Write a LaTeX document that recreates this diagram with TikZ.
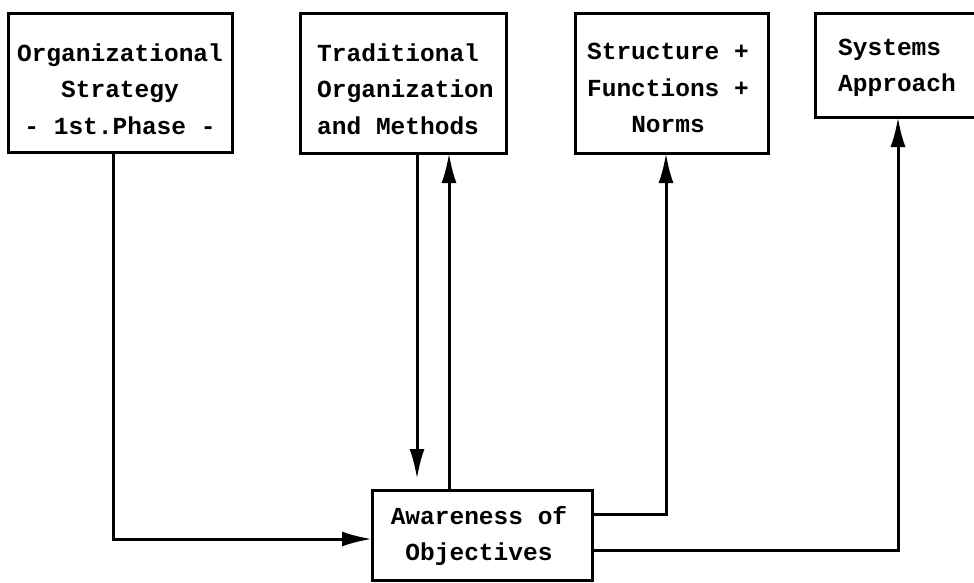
\documentclass[tikz,border=0pt]{standalone}
\usepackage{fontspec}
\setmonofont{Liberation Mono}
\usetikzlibrary{arrows.meta,positioning}
\begin{document}
\begin{tikzpicture}[x=1pt,y=-1pt,
  boxstyle/.style={draw,line width=3pt,inner sep=0pt},
  txt/.style={font=\ttfamily\bfseries\fontsize{24.5}{36.5}\selectfont,inner sep=0pt},
  conn/.style={line width=3pt},
  arr/.style={conn,-{Latex[length=30pt,width=15pt]}}]
\useasboundingbox (0,0) rectangle (974,582);
\fill[white] (0,0) rectangle (974,582);
% boxes
\draw[boxstyle] (8,13) rectangle (232,152);
\coordinate (b1) at (113,152);
\node[txt,align=center] (t1) at (120,89) {Organizational\\Strategy\\- 1st.Phase -};

\draw[boxstyle] (300,13) rectangle (506,153);
\node[txt,align=left,anchor=west] (t2) at (317,89) {Traditional\\Organization\\and Methods};
\coordinate (b2a) at (417,153);
\coordinate (b2b) at (449,153);

\draw[boxstyle] (575,13) rectangle (768,153);
\node[txt,align=center] (t3) at (668,88) {Structure +\\Functions +\\Norms};
\coordinate (b3) at (666,153);

\draw[boxstyle] (815,13) rectangle (980,117);
\node[txt,align=left,anchor=west] (t4) at (838,68) {Systems\\Approach};
\coordinate (b4) at (898,117);

\draw[boxstyle] (372,490) rectangle (592,580);
\node[txt,align=center] (t5) at (479,536) {Awareness of\\Objectives};
\coordinate (c5l) at (372,539);
\coordinate (c5t) at (449,490);
\coordinate (c5r1) at (592,514);
\coordinate (c5r2) at (592,550);
\coordinate (d2) at (417,479);

% connectors
\draw[arr] (b1) |- (c5l);
\draw[arr] (b2a) -- (d2);
\draw[arr] (c5t) -- (b2b);
\draw[arr] (c5r1) -| (b3);
\draw[arr] (c5r2) -| (b4);
\end{tikzpicture}
\end{document}
